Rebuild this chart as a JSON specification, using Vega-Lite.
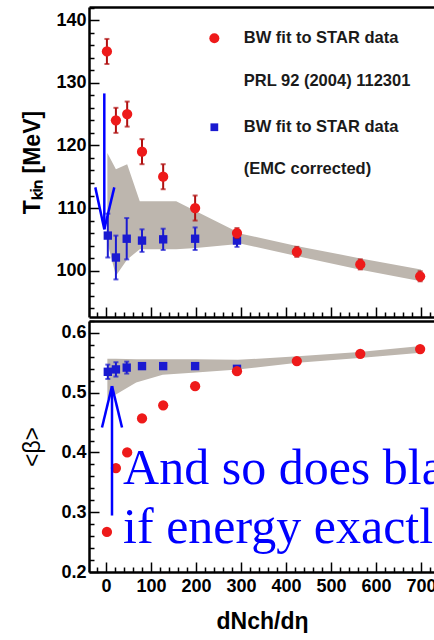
{
  "$schema": "https://vega.github.io/schema/vega-lite/v6.json",
  "padding": {"left": 21, "top": 7, "right": 0, "bottom": 0},
  "spacing": 2,
  "background": "white",
  "datasets": {
    "red": [
      {"x": 2, "T": 135.0, "Tlo": 133.0, "Thi": 137.0, "beta": 0.267},
      {"x": 22, "T": 124.0, "Tlo": 122.0, "Thi": 126.0, "beta": 0.374},
      {"x": 47, "T": 125.0, "Tlo": 123.0, "Thi": 127.0, "beta": 0.400},
      {"x": 80, "T": 119.0, "Tlo": 117.0, "Thi": 121.0, "beta": 0.457},
      {"x": 127, "T": 115.0, "Tlo": 113.0, "Thi": 117.0, "beta": 0.479},
      {"x": 198, "T": 110.0, "Tlo": 108.0, "Thi": 112.0, "beta": 0.511},
      {"x": 291, "T": 106.0, "Tlo": 105.2, "Thi": 106.8, "beta": 0.536},
      {"x": 424, "T": 103.0, "Tlo": 102.2, "Thi": 103.8, "beta": 0.553},
      {"x": 565, "T": 101.0, "Tlo": 100.2, "Thi": 101.8, "beta": 0.565},
      {"x": 698, "T": 99.1, "Tlo": 98.3, "Thi": 99.9, "beta": 0.573}
    ],
    "blue": [
      {"x": 4, "T": 105.6, "Tlo": 102.1, "Thi": 109.1, "beta": 0.535, "blo": 0.523, "bhi": 0.547},
      {"x": 22, "T": 102.1, "Tlo": 98.6, "Thi": 105.6, "beta": 0.539, "blo": 0.527, "bhi": 0.551},
      {"x": 46, "T": 105.1, "Tlo": 101.8, "Thi": 108.4, "beta": 0.542, "blo": 0.532, "bhi": 0.552},
      {"x": 80, "T": 104.8, "Tlo": 103.0, "Thi": 106.6, "beta": 0.5445, "blo": 0.5405, "bhi": 0.5485},
      {"x": 127, "T": 105.0, "Tlo": 103.3, "Thi": 106.7, "beta": 0.5445, "blo": 0.5415, "bhi": 0.5475},
      {"x": 198, "T": 105.1, "Tlo": 103.3, "Thi": 106.9, "beta": 0.5445, "blo": 0.5415, "bhi": 0.5475},
      {"x": 291, "T": 104.8, "Tlo": 103.8, "Thi": 105.8, "beta": 0.540, "blo": 0.537, "bhi": 0.543}
    ],
    "bandT": [
      {"x": 3, "lo": 104.5, "hi": 118.8},
      {"x": 22, "lo": 99.2, "hi": 116.2},
      {"x": 47, "lo": 101.8, "hi": 117.0},
      {"x": 75, "lo": 103.4, "hi": 111.1},
      {"x": 156, "lo": 103.4, "hi": 111.1},
      {"x": 200, "lo": 103.6, "hi": 109.5},
      {"x": 300, "lo": 104.3, "hi": 105.9},
      {"x": 426, "lo": 102.3, "hi": 103.9},
      {"x": 563, "lo": 100.2, "hi": 102.0},
      {"x": 700, "lo": 98.3, "hi": 100.2}
    ],
    "bandB": [
      {"x": 3, "lo": 0.490, "hi": 0.557},
      {"x": 22, "lo": 0.497, "hi": 0.557},
      {"x": 67, "lo": 0.517, "hi": 0.556},
      {"x": 126, "lo": 0.530, "hi": 0.556},
      {"x": 200, "lo": 0.534, "hi": 0.556},
      {"x": 293, "lo": 0.539, "hi": 0.555},
      {"x": 426, "lo": 0.550, "hi": 0.561},
      {"x": 563, "lo": 0.558, "hi": 0.568},
      {"x": 700, "lo": 0.567, "hi": 0.578}
    ],
    "one": [{}]
  },
  "vconcat": [
    {
      "width": 346,
      "height": 310,
      "resolve": {"axis": {"x": "independent", "y": "independent"}},
      "layer": [
        {
          "data": {"name": "bandT"},
          "mark": {"type": "area", "color": "#bdb6ae", "opacity": 1},
          "encoding": {
            "x": {"field": "x", "type": "quantitative", "scale": {"domain": [-37.8, 731], "nice": false, "zero": false},
                  "axis": {"orient": "bottom", "values": [0, 100, 200, 300, 400, 500, 600, 700], "labels": false, "tickSize": -10, "title": null}},
            "y": {"field": "lo", "type": "quantitative", "scale": {"domain": [92.6, 142.1], "nice": false, "zero": false},
                  "axis": {"orient": "left", "values": [100, 110, 120, 130, 140], "tickSize": -10, "labelPadding": 13, "title": "Tₖᵢₙ [MeV]", "minExtent": 36, "maxExtent": 36, "titlePadding": 9}},
            "y2": {"field": "hi"}
          }
        },
        {
          "data": {"name": "blue"},
          "mark": {"type": "errorbar", "ticks": {"size": 5}, "color": "#1a1ad0", "thickness": 2},
          "encoding": {
            "x": {"field": "x", "type": "quantitative", "axis": null},
            "y": {"field": "Tlo", "type": "quantitative", "axis": null},
            "y2": {"field": "Thi"}
          }
        },
        {
          "data": {"name": "blue"},
          "mark": {"type": "point", "shape": "square", "filled": true, "size": 70, "color": "#1a1ad0", "opacity": 1},
          "encoding": {
            "x": {"field": "x", "type": "quantitative",
                  "axis": {"orient": "bottom", "values": [-20, 20, 40, 60, 80, 120, 140, 160, 180, 220, 240, 260, 280, 320, 340, 360, 380, 420, 440, 460, 480, 520, 540, 560, 580, 620, 640, 660, 680, 720], "labels": false, "domain": false, "tickSize": -5, "title": null}},
            "y": {"field": "T", "type": "quantitative",
                  "axis": {"orient": "left", "values": [94, 96, 98, 102, 104, 106, 108, 112, 114, 116, 118, 122, 124, 126, 128, 132, 134, 136, 138, 142], "labels": false, "domain": false, "tickSize": -5, "title": null}}
          }
        },
        {
          "data": {"name": "red"},
          "mark": {"type": "errorbar", "ticks": {"size": 5}, "color": "#b01010", "thickness": 2},
          "encoding": {
            "x": {"field": "x", "type": "quantitative", "axis": null},
            "y": {"field": "Tlo", "type": "quantitative", "axis": null},
            "y2": {"field": "Thi"}
          }
        },
        {
          "data": {"name": "red"},
          "mark": {"type": "point", "shape": "circle", "filled": true, "size": 105, "color": "#ee1a1a", "opacity": 1},
          "encoding": {
            "x": {"field": "x", "type": "quantitative", "axis": {"orient": "top", "ticks": false, "labels": false, "domain": true, "title": null}},
            "y": {"field": "T", "type": "quantitative", "axis": null}
          }
        },
        {
          "data": {"name": "one"},
          "mark": {"type": "point", "shape": "circle", "filled": true, "size": 100, "color": "#ee1a1a", "opacity": 1},
          "encoding": {"x": {"datum": 240.7, "type": "quantitative", "axis": null}, "y": {"datum": 137.1, "type": "quantitative", "axis": null}}
        },
        {
          "data": {"name": "one"},
          "mark": {"type": "point", "shape": "square", "filled": true, "size": 60, "color": "#1a1ad0", "opacity": 1},
          "encoding": {"x": {"datum": 240.7, "type": "quantitative", "axis": null}, "y": {"datum": 122.9, "type": "quantitative", "axis": null}}
        },
        {
          "data": {"name": "one"},
          "mark": {"type": "text", "text": "BW fit to STAR data", "align": "left", "baseline": "middle", "font": "Liberation Sans", "fontWeight": "bold", "fontSize": 16.5, "color": "#1a1a1a"},
          "encoding": {"x": {"datum": 306, "type": "quantitative", "axis": null}, "y": {"datum": 137.1, "type": "quantitative", "axis": null}}
        },
        {
          "data": {"name": "one"},
          "mark": {"type": "text", "text": "PRL 92 (2004) 112301", "align": "left", "baseline": "middle", "font": "Liberation Sans", "fontWeight": "bold", "fontSize": 16.5, "color": "#1a1a1a"},
          "encoding": {"x": {"datum": 306, "type": "quantitative", "axis": null}, "y": {"datum": 130.3, "type": "quantitative", "axis": null}}
        },
        {
          "data": {"name": "one"},
          "mark": {"type": "text", "text": "BW fit to STAR data", "align": "left", "baseline": "middle", "font": "Liberation Sans", "fontWeight": "bold", "fontSize": 16.5, "color": "#1a1a1a"},
          "encoding": {"x": {"datum": 306, "type": "quantitative", "axis": null}, "y": {"datum": 122.9, "type": "quantitative", "axis": null}}
        },
        {
          "data": {"name": "one"},
          "mark": {"type": "text", "text": "(EMC corrected)", "align": "left", "baseline": "middle", "font": "Liberation Sans", "fontWeight": "bold", "fontSize": 16.5, "color": "#1a1a1a"},
          "encoding": {"x": {"datum": 306, "type": "quantitative", "axis": null}, "y": {"datum": 116.2, "type": "quantitative", "axis": null}}
        },
        {
          "data": {"name": "one"},
          "mark": {"type": "rule", "color": "#0000ff", "strokeWidth": 2.5},
          "encoding": {"x": {"datum": -3.8, "type": "quantitative", "axis": null}, "y": {"datum": 128.3, "type": "quantitative", "axis": null}, "x2": {"datum": -3.8}, "y2": {"datum": 106.6}}
        },
        {
          "data": {"name": "one"},
          "mark": {"type": "rule", "color": "#0000ff", "strokeWidth": 2.5},
          "encoding": {"x": {"datum": -23.8, "type": "quantitative", "axis": null}, "y": {"datum": 113.3, "type": "quantitative", "axis": null}, "x2": {"datum": -3.8}, "y2": {"datum": 106.6}}
        },
        {
          "data": {"name": "one"},
          "mark": {"type": "rule", "color": "#0000ff", "strokeWidth": 2.5},
          "encoding": {"x": {"datum": 18.4, "type": "quantitative", "axis": null}, "y": {"datum": 113.3, "type": "quantitative", "axis": null}, "x2": {"datum": -3.8}, "y2": {"datum": 106.6}}
        }
      ]
    },
    {
      "width": 346,
      "height": 251,
      "resolve": {"axis": {"x": "independent", "y": "independent"}},
      "layer": [
        {
          "data": {"name": "bandB"},
          "mark": {"type": "area", "color": "#bdb6ae", "opacity": 1},
          "encoding": {
            "x": {"field": "x", "type": "quantitative", "scale": {"domain": [-37.8, 731], "nice": false, "zero": false},
                  "axis": {"orient": "bottom", "values": [0, 100, 200, 300, 400, 500, 600, 700], "tickSize": -10, "labelPadding": 15, "title": "dNch/dη", "titlePadding": 15}},
            "y": {"field": "lo", "type": "quantitative", "scale": {"domain": [0.2, 0.62], "nice": false, "zero": false},
                  "axis": {"orient": "left", "values": [0.2, 0.3, 0.4, 0.5, 0.6], "format": ".1f", "tickSize": -10, "labelPadding": 13, "title": "<β>", "titleFontWeight": "normal", "minExtent": 36, "maxExtent": 36, "titlePadding": 9}},
            "y2": {"field": "hi"}
          }
        },
        {
          "data": {"name": "blue"},
          "mark": {"type": "errorbar", "ticks": {"size": 5}, "color": "#1a1ad0", "thickness": 2},
          "encoding": {
            "x": {"field": "x", "type": "quantitative", "axis": null},
            "y": {"field": "blo", "type": "quantitative", "axis": null},
            "y2": {"field": "bhi"}
          }
        },
        {
          "data": {"name": "blue"},
          "mark": {"type": "point", "shape": "square", "filled": true, "size": 70, "color": "#1a1ad0", "opacity": 1},
          "encoding": {
            "x": {"field": "x", "type": "quantitative",
                  "axis": {"orient": "bottom", "values": [-20, 20, 40, 60, 80, 120, 140, 160, 180, 220, 240, 260, 280, 320, 340, 360, 380, 420, 440, 460, 480, 520, 540, 560, 580, 620, 640, 660, 680, 720], "labels": false, "domain": false, "tickSize": -5, "title": null}},
            "y": {"field": "beta", "type": "quantitative",
                  "axis": {"orient": "left", "values": [0.22, 0.24, 0.26, 0.28, 0.32, 0.34, 0.36, 0.38, 0.42, 0.44, 0.46, 0.48, 0.52, 0.54, 0.56, 0.58, 0.62], "labels": false, "domain": false, "tickSize": -5, "title": null}}
          }
        },
        {
          "data": {"name": "red"},
          "mark": {"type": "point", "shape": "circle", "filled": true, "size": 105, "color": "#ee1a1a", "opacity": 1},
          "encoding": {
            "x": {"field": "x", "type": "quantitative", "axis": {"orient": "top", "ticks": false, "labels": false, "domain": true, "title": null}},
            "y": {"field": "beta", "type": "quantitative", "axis": null}
          }
        },
        {
          "data": {"name": "one"},
          "mark": {"type": "rule", "color": "#0000ff", "strokeWidth": 2.5},
          "encoding": {"x": {"datum": 13.3, "type": "quantitative", "axis": null}, "y": {"datum": 0.2945, "type": "quantitative", "axis": null}, "x2": {"datum": 13.3}, "y2": {"datum": 0.511}}
        },
        {
          "data": {"name": "one"},
          "mark": {"type": "rule", "color": "#0000ff", "strokeWidth": 2.5},
          "encoding": {"x": {"datum": -8.9, "type": "quantitative", "axis": null}, "y": {"datum": 0.4417, "type": "quantitative", "axis": null}, "x2": {"datum": 13.3}, "y2": {"datum": 0.511}}
        },
        {
          "data": {"name": "one"},
          "mark": {"type": "rule", "color": "#0000ff", "strokeWidth": 2.5},
          "encoding": {"x": {"datum": 35.6, "type": "quantitative", "axis": null}, "y": {"datum": 0.4417, "type": "quantitative", "axis": null}, "x2": {"datum": 13.3}, "y2": {"datum": 0.511}}
        },
        {
          "data": {"name": "one"},
          "mark": {"type": "text", "text": "And so does bla", "align": "left", "baseline": "alphabetic", "font": "Liberation Serif", "fontSize": 50, "color": "#0000ff", "clip": true},
          "encoding": {"x": {"datum": 38, "type": "quantitative", "axis": null}, "y": {"datum": 0.348, "type": "quantitative", "axis": null}}
        },
        {
          "data": {"name": "one"},
          "mark": {"type": "text", "text": "if energy exactl", "align": "left", "baseline": "alphabetic", "font": "Liberation Serif", "fontSize": 50, "color": "#0000ff", "clip": true},
          "encoding": {"x": {"datum": 38, "type": "quantitative", "axis": null}, "y": {"datum": 0.248, "type": "quantitative", "axis": null}}
        }
      ]
    }
  ],
  "config": {
    "view": {"stroke": null},
    "axis": {
      "grid": false,
      "domainColor": "black",
      "domainWidth": 2.5,
      "tickColor": "black",
      "tickWidth": 1.5,
      "labelColor": "black",
      "labelFont": "Liberation Sans",
      "labelFontWeight": "bold",
      "labelFontSize": 18,
      "titleColor": "black",
      "titleFont": "Liberation Sans",
      "titleFontWeight": "bold",
      "titleFontSize": 23
    }
  }
}
